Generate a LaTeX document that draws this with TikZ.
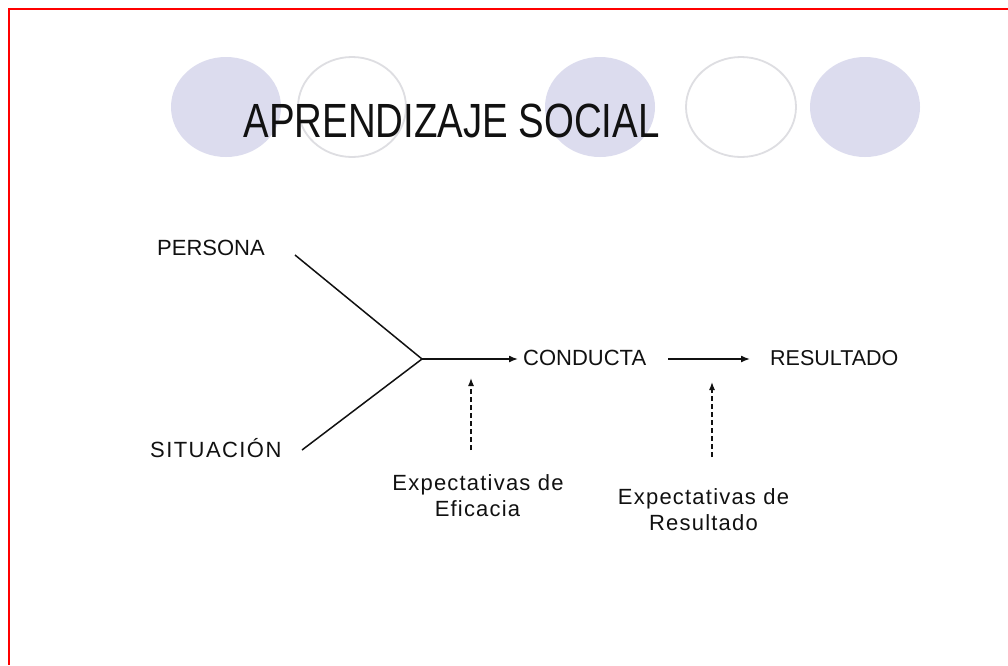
\documentclass[tikz,border=0pt]{standalone}
\usepackage{fontspec}
\setmainfont{Liberation Sans}
\newfontfamily\spacedS[LetterSpace=6.5]{Liberation Sans}
\newfontfamily\spacedB[LetterSpace=5.5]{Liberation Sans}
\usetikzlibrary{arrows.meta}
\definecolor{lav}{HTML}{DCDCEE}
\definecolor{ringgray}{HTML}{DEDEE2}
\definecolor{framered}{HTML}{FF0000}
\definecolor{ink}{HTML}{111111}
\tikzset{
  disk/.style={fill=lav},
  ring/.style={draw=ringgray, line width=1.8pt, fill=white},
  lbl/.style={inner sep=0pt, anchor=base west, text=ink, font=\fontsize{22}{26}\selectfont},
  sub/.style={inner sep=0pt, anchor=base, text=ink, font=\spacedB\fontsize{22}{26}\selectfont},
  conn/.style={line width=1.5pt, draw=ink},
  arr/.style={conn, -{Latex[length=9pt,width=7pt]}},
  dasharr/.style={line width=1.3pt, draw=ink, dash pattern=on 5pt off 3pt, -{Latex[length=8pt,width=6pt]}}
}
\begin{document}
\begin{tikzpicture}[x=1pt,y=-1pt]
\useasboundingbox (0,0) rectangle (1008,665);
\fill[white] (0,0) rectangle (1008,665);
\draw[framered, line width=2pt] (8.5,665) -- (8.5,8.5) -- (1008,8.5);
% decorative circles
\fill[disk] (226,107) ellipse [x radius=55pt, y radius=50pt];
\draw[ring] (352,107) ellipse [x radius=54pt, y radius=50pt];
\fill[disk] (600,107) ellipse [x radius=55pt, y radius=50pt];
\draw[ring] (741,107) ellipse [x radius=55pt, y radius=50pt];
\fill[disk] (865,107) ellipse [x radius=55pt, y radius=50pt];
% title
\node[inner sep=0pt, anchor=base, text=ink, font=\fontsize{48}{50}\selectfont] (title) at (451.5,137) {\scalebox{0.8}[1]{APRENDIZAJE SOCIAL}};
% labels
\node[lbl] (persona) at (157,255) {PERSONA};
\node[lbl, font=\spacedS\fontsize{22}{26}\selectfont] (situacion) at (150,457) {SITUACIÓN};
\node[lbl] (conducta) at (523,365) {CONDUCTA};
\node[lbl, font=\fontsize{21.5}{26}\selectfont] (resultado) at (770,365) {RESULTADO};
\node[sub] (ef1) at (478,490) {Expectativas de};
\node[sub] (ef2) at (477.5,516) {Eficacia};
\node[sub] (re1) at (703.5,504) {Expectativas de};
\node[sub] (re2) at (703.5,530) {Resultado};
% connectors
\coordinate (j) at (422,359);
\coordinate (pstart) at (295,255);
\coordinate (sstart) at (302,450);
\coordinate (c2s) at (668,359);
\coordinate (d1b) at (471,450);
\coordinate (d1t) at (471,378);
\coordinate (d2b) at (712,457);
\coordinate (d2t) at (712,382);
\draw[conn] (pstart) -- (j);
\draw[conn] (sstart) -- (j);
\draw[arr, shorten >=5pt] (j) -- (j -| conducta.west);
\draw[arr, shorten >=20pt] (c2s) -- (c2s -| resultado.west);
\draw[dasharr] (d1b) -- (d1t);
\draw[dasharr] (d2b) -- (d2t);
\end{tikzpicture}
\end{document}
